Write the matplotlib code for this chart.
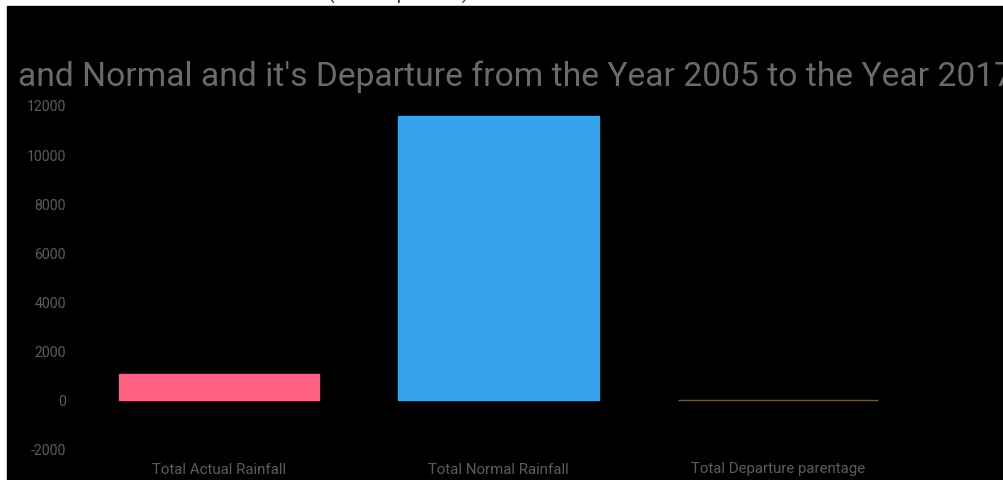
import matplotlib.pyplot as plt
import matplotlib.patches as patches

plt.rcParams['font.family'] = ['Roboto', 'DejaVu Sans']

# rainfall totals 2005-2017
categories = ['Total Actual Rainfall', 'Total Normal Rainfall', 'Total Departure parentage']
totals = [1060, 11560, -15]
bar_colors = ['#ff6384', '#36a2eb', '#6e5c48']
y_ticks = [-2000, 0, 2000, 4000, 6000, 8000, 10000, 12000]

W, H = 1004, 481
fig = plt.figure(figsize=(W / 100, H / 100), dpi=100, facecolor='white')

# dark panel, leaving a thin white margin on top and left
fig.patches.append(patches.Rectangle((7 / W, 0), 1 - 7 / W, 1 - 7 / H,
                                     transform=fig.transFigure, color='black', zorder=-2))

# subtitle sitting mostly above the panel
fig.text(398 / W, 1 + 6 / H, '(In Comparison)', ha='center', va='center',
         fontsize=14, color='#333333', zorder=-3)

ax = fig.add_axes([79 / W, 1 - 450 / H, (918 - 79) / W, (450 - 106) / H])
ax.set_facecolor('black')
ax.patch.set_alpha(0)

x = range(len(categories))
ax.bar(x, totals, width=0.716, color=bar_colors, edgecolor=bar_colors, linewidth=1)

ax.set_xlim(-0.5, len(categories) - 0.5)
ax.set_ylim(-2000, 12000)
ax.set_yticks(y_ticks)
ax.set_yticklabels([str(v) for v in y_ticks])
ax.set_xticks(list(x))
ax.set_xticklabels(categories)
ax.tick_params(axis='y', length=0, pad=9.4, labelsize=10.2, labelcolor='#5c5c5c')
ax.tick_params(axis='x', length=0, pad=9, labelsize=10.8, labelcolor='#5c5c5c')
for s in ax.spines.values():
    s.set_visible(False)

fig.text(18 / W, 1 - 77 / H, "and Normal and it's Departure from the Year 2005 to the Year 2017",
         ha='left', va='center', fontsize=24.2, color='#6a6a6a')

fig.savefig('out.png', dpi=100, facecolor=fig.get_facecolor())
